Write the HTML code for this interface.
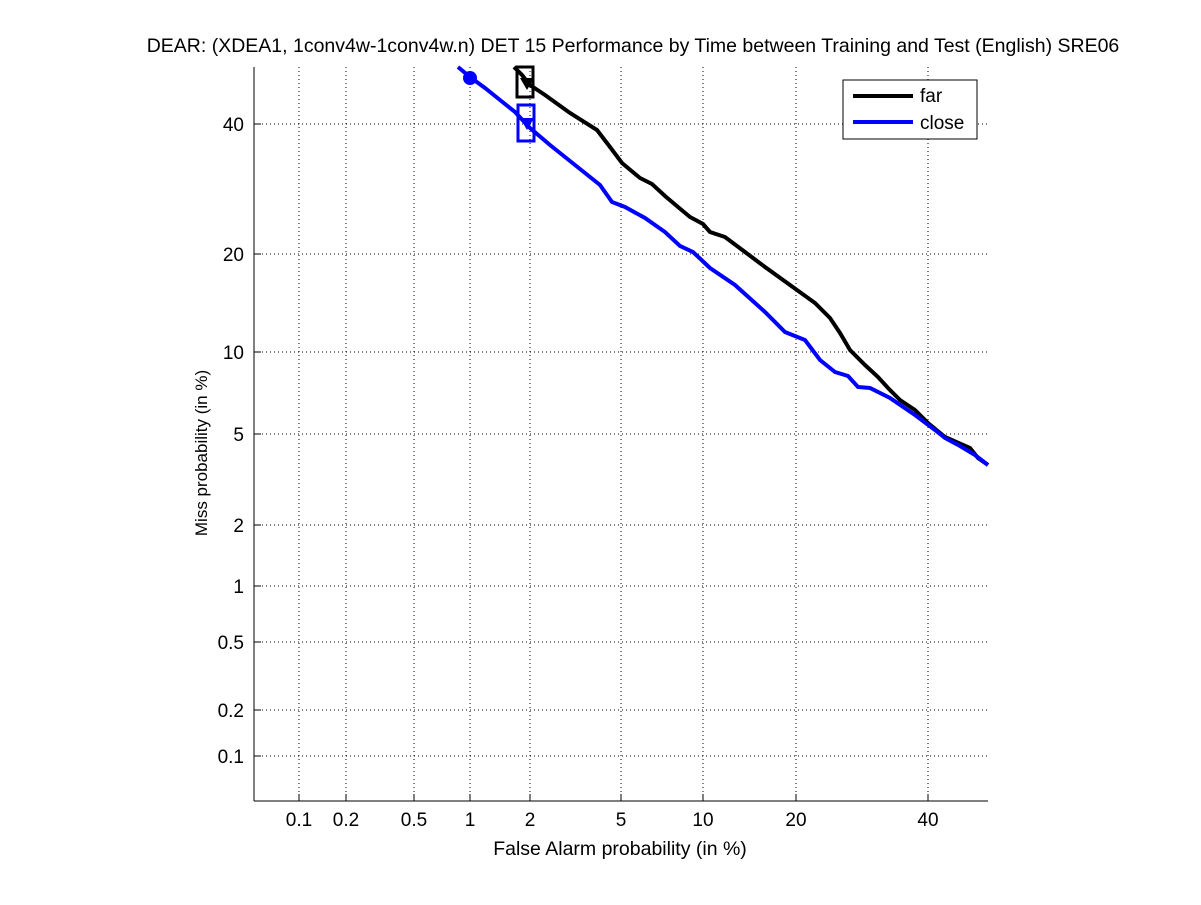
<!DOCTYPE html>
<html><head><style>body{margin:0;background:#fff}svg text{font-family:"Liberation Sans",sans-serif}</style></head><body>
<svg width="1201" height="900" xmlns="http://www.w3.org/2000/svg">
<rect width="1201" height="900" fill="#fff"/>
<g stroke="#000" stroke-width="1" stroke-dasharray="1,3">
<line x1="299" y1="67" x2="299" y2="801"/><line x1="346" y1="67" x2="346" y2="801"/><line x1="414" y1="67" x2="414" y2="801"/><line x1="470" y1="67" x2="470" y2="801"/><line x1="530" y1="67" x2="530" y2="801"/><line x1="621" y1="67" x2="621" y2="801"/><line x1="703" y1="67" x2="703" y2="801"/><line x1="796" y1="67" x2="796" y2="801"/><line x1="928" y1="67" x2="928" y2="801"/>
<line x1="254" y1="124" x2="988" y2="124"/><line x1="254" y1="254" x2="988" y2="254"/><line x1="254" y1="352" x2="988" y2="352"/><line x1="254" y1="434" x2="988" y2="434"/><line x1="254" y1="525" x2="988" y2="525"/><line x1="254" y1="586" x2="988" y2="586"/><line x1="254" y1="642" x2="988" y2="642"/><line x1="254" y1="710" x2="988" y2="710"/><line x1="254" y1="756" x2="988" y2="756"/>
</g>
<line x1="254" y1="67" x2="254" y2="801" stroke="#000"/>
<line x1="254" y1="801" x2="988" y2="801" stroke="#000"/>
<g stroke="#000">
<line x1="299" y1="801" x2="299" y2="794"/><line x1="346" y1="801" x2="346" y2="794"/><line x1="414" y1="801" x2="414" y2="794"/><line x1="470" y1="801" x2="470" y2="794"/><line x1="530" y1="801" x2="530" y2="794"/><line x1="621" y1="801" x2="621" y2="794"/><line x1="703" y1="801" x2="703" y2="794"/><line x1="796" y1="801" x2="796" y2="794"/><line x1="928" y1="801" x2="928" y2="794"/>
<line x1="254" y1="124" x2="261" y2="124"/><line x1="254" y1="254" x2="261" y2="254"/><line x1="254" y1="352" x2="261" y2="352"/><line x1="254" y1="434" x2="261" y2="434"/><line x1="254" y1="525" x2="261" y2="525"/><line x1="254" y1="586" x2="261" y2="586"/><line x1="254" y1="642" x2="261" y2="642"/><line x1="254" y1="710" x2="261" y2="710"/><line x1="254" y1="756" x2="261" y2="756"/>
</g>
<g font-size="19" text-anchor="middle">
<text x="299" y="826">0.1</text><text x="346" y="826">0.2</text><text x="414" y="826">0.5</text><text x="470" y="826">1</text><text x="530" y="826">2</text><text x="621" y="826">5</text><text x="703" y="826">10</text><text x="796" y="826">20</text><text x="928" y="826">40</text>
</g>
<g font-size="19" text-anchor="end">
<text x="244" y="131">40</text><text x="244" y="261">20</text><text x="244" y="359">10</text><text x="244" y="441">5</text><text x="244" y="532">2</text><text x="244" y="593">1</text><text x="244" y="649">0.5</text><text x="244" y="717">0.2</text><text x="244" y="763">0.1</text>
</g>
<text x="620" y="855" font-size="19.5" text-anchor="middle">False Alarm probability (in %)</text>
<text transform="translate(207,453) rotate(-90)" font-size="17" text-anchor="middle">Miss probability (in %)</text>
<text x="633" y="52" font-size="19.5" text-anchor="middle">DEAR: (XDEA1, 1conv4w-1conv4w.n) DET 15 Performance by Time between Training and Test (English) SRE06</text>
<polyline fill="none" stroke="#000" stroke-width="4" points="514,67 522,75 530,85 545,95 570,113 597,130 610,147 622,163 640,178 652,184 665,196 678,207 690,217 703,224 710,232 725,237 745,252 765,267 790,285 815,303 830,318 840,333 850,350 865,365 878,377 888,388 900,400 915,410 928,423 945,437 970,448 978,458 988,465"/>
<polyline fill="none" stroke="#00f" stroke-width="4" points="458,67 470,77 485,88 500,100 515,112 530,128 550,145 575,165 600,185 612,202 625,207 645,218 665,232 680,246 693,252 710,268 735,285 765,312 785,332 805,340 820,360 835,372 848,376 858,387 870,388 890,398 915,415 935,430 945,438 960,446 975,455 988,465"/>
<circle cx="470" cy="78" r="7" fill="#00f"/>
<rect x="517" y="67" width="16" height="30" fill="none" stroke="#000" stroke-width="3"/>
<path d="M520,78 L534,78 L527,90 Z" fill="#000"/>
<rect x="518" y="105" width="16" height="36" fill="none" stroke="#00f" stroke-width="3"/>
<path d="M520,118 L534,118 L527,130 Z" fill="#00f"/>
<rect x="843" y="80" width="134" height="59" fill="#fff" stroke="#000"/>
<line x1="853" y1="96" x2="913" y2="96" stroke="#000" stroke-width="4"/>
<line x1="853" y1="122" x2="913" y2="122" stroke="#00f" stroke-width="4"/>
<text x="920" y="102" font-size="19">far</text>
<text x="920" y="129" font-size="19">close</text>
</svg>
</body></html>
